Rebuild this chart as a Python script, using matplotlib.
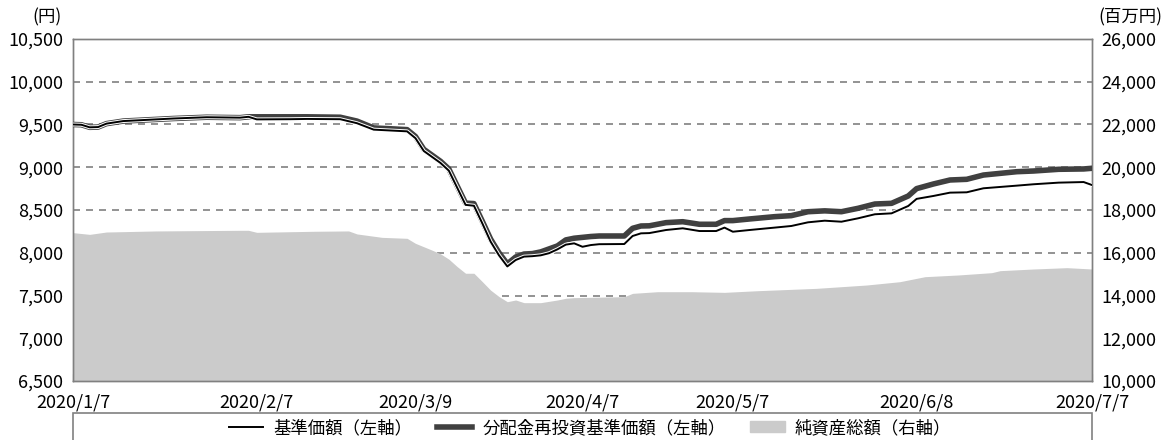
# 基準価額・分配金再投資基準価額・純資産総額の推移（2020/1/7〜2020/7/7）

import pandas as pd
import matplotlib
matplotlib.use("Agg")
from matplotlib import pyplot as plt
from matplotlib import patheffects as pe
from matplotlib.lines import Line2D
from matplotlib.patches import Patch, Rectangle
from matplotlib.ticker import FuncFormatter

plt.rcParams['font.family'] = ['Noto Sans CJK JP', 'DejaVu Sans']

# 東京市場の休場日（期間内）
holidays = ['2020-01-13', '2020-02-11', '2020-02-24', '2020-03-20',
            '2020-04-29', '2020-05-04', '2020-05-05', '2020-05-06']
days = pd.bdate_range('2020-01-07', '2020-07-07', freq='C', holidays=holidays)

# 基準価額 / 分配金再投資基準価額（円）
price_dates = ['01-07', '01-08', '01-09', '01-10', '01-14', '01-16', '01-20', '01-24',
               '01-30', '02-05', '02-06', '02-07', '02-14', '02-18', '02-25', '02-27',
               '03-02', '03-06', '03-09', '03-10', '03-12', '03-13', '03-16', '03-17',
               '03-18', '03-19', '03-23', '03-24', '03-25', '03-26', '03-27', '03-30',
               '03-31', '04-01', '04-02', '04-03', '04-06', '04-07', '04-08', '04-09',
               '04-14', '04-15', '04-16', '04-17', '04-21', '04-23', '04-27', '04-30',
               '05-01', '05-07', '05-11', '05-14', '05-18', '05-20', '05-22', '05-26',
               '05-28', '06-01', '06-03', '06-05', '06-08', '06-10', '06-12', '06-16',
               '06-18', '06-24', '06-26', '07-01', '07-06', '07-07']
nav = [9500, 9497, 9467, 9470, 9510, 9540, 9550, 9570,
       9585, 9580, 9590, 9560, 9562, 9565, 9562, 9515,
       9440, 9420, 9340, 9190, 9050, 8960, 8760, 8560,
       8550, 8345, 8130, 7970, 7840, 7915, 7955, 7960,
       7970, 7995, 8040, 8095, 8110, 8070, 8090, 8100,
       8102, 8196, 8227, 8230, 8266, 8286, 8254, 8254,
       8294, 8246, 8266, 8294, 8313, 8356, 8375, 8363,
       8403, 8450, 8461, 8547, 8630, 8664, 8703, 8707,
       8754, 8785, 8801, 8820, 8827, 8792]
nav_reinv = [9500, 9497, 9467, 9470, 9510, 9540, 9550, 9570,
             9585, 9580, 9590, 9590, 9590, 9590, 9585, 9540,
             9460, 9440, 9360, 9210, 9070, 8980, 8780, 8580,
             8575, 8370, 8160, 8000, 7870, 7950, 7985, 7990,
             8010, 8045, 8080, 8150, 8170, 8180, 8190, 8196,
             8196, 8286, 8313, 8315, 8352, 8363, 8333, 8333,
             8376, 8376, 8395, 8422, 8434, 8480, 8490, 8480,
             8520, 8570, 8578, 8664, 8750, 8804, 8851, 8859,
             8909, 8948, 8956, 8976, 8980, 8988]

# 純資産総額（百万円）
asset_dates = ['01-07', '01-09', '01-14', '01-22', '02-05', '02-06', '02-07', '02-19',
               '02-26', '02-27', '03-03', '03-06', '03-09', '03-11', '03-12', '03-13',
               '03-16', '03-17', '03-18', '03-19', '03-23', '03-24', '03-25', '03-26',
               '03-27', '03-31', '04-02', '04-03', '04-06', '04-08', '04-14', '04-15',
               '04-20', '04-24', '05-01', '05-12', '05-21', '05-29', '06-04', '06-09',
               '06-15', '06-19', '06-22', '06-26', '07-02', '07-07']
assets = [16940, 16860, 16970, 17020, 17050, 17050, 16955, 17005,
          17020, 16880, 16720, 16675, 16440, 16120, 15950, 15700,
          15350, 15040, 15040, 14650, 14250, 13950, 13710, 13790,
          13665, 13665, 13790, 13870, 13900, 13914, 13945, 14100,
          14178, 14178, 14147, 14225, 14334, 14490, 14646, 14880,
          14960, 15068, 15162, 15240, 15302, 15240]

tick_dates = ['01-07', '02-07', '03-09', '04-07', '05-07', '06-08', '07-07']
tick_labels = ['2020/1/7', '2020/2/7', '2020/3/9', '2020/4/7', '2020/5/7', '2020/6/8', '2020/7/7']


def pos(ds):
    return [days.get_loc(pd.Timestamp('2020-' + d)) for d in ds]


edge = '#808080'
fig = plt.figure(figsize=(11.65, 4.4), dpi=100)
ax = fig.add_axes([73 / 1165, 1 - 381 / 440, (1092 - 73) / 1165, (381 - 39) / 440])
ax2 = ax.twinx()

# 純資産総額（右軸）
ax.fill_between(pos(asset_dates), assets, 10000, color='#cbcbcb', lw=0, zorder=2)
ax.set_ylim(10000, 26000)
ax.set_yticks(range(10000, 26001, 2000))
ax.yaxis.tick_right()
ax.yaxis.set_major_formatter(FuncFormatter(lambda v, p: f'{v:,.0f}'))
ax.grid(axis='y', color=edge, lw=1.2, linestyle=(0, (4.2, 3.6)), zorder=1)
ax.set_axisbelow(True)

# 基準価額（左軸）
xp = pos(price_dates)
ax2.plot(xp, nav_reinv, color='#404040', lw=4, solid_joinstyle='round', zorder=3)
ax2.plot(xp, nav, color='black', lw=1.4, zorder=4,
         path_effects=[pe.Stroke(linewidth=2.8, foreground='white'), pe.Normal()])
ax2.set_ylim(6500, 10500)
ax2.set_yticks(range(6500, 10501, 500))
ax2.yaxis.tick_left()
ax2.yaxis.set_major_formatter(FuncFormatter(lambda v, p: f'{v:,.0f}'))

ax.set_xlim(0, len(days) - 1)
ax.set_xticks(pos(tick_dates))
ax.set_xticklabels(tick_labels)
ax.tick_params(axis='x', direction='in', length=5, color=edge, labelsize=13, pad=9)
ax.tick_params(axis='y', length=0, labelsize=13, pad=7)
ax2.tick_params(axis='y', length=0, labelsize=13, pad=7)
for a in (ax, ax2):
    for s in a.spines.values():
        s.set_color(edge)
        s.set_linewidth(1)

fig.text(47 / 1165, 1 - 17 / 440, '(円)', ha='center', va='center', fontsize=12.5)
fig.text(1130 / 1165, 1 - 17 / 440, '(百万円)', ha='center', va='center', fontsize=12.5)

# 凡例
fig.patches.append(Rectangle((73 / 1165, -0.02), (1092 - 73) / 1165, 0.02 + 1 - 413 / 440,
                             transform=fig.transFigure, fill=False, ec=edge, lw=1.2))
handles = [Line2D([], [], color='black', lw=1.4),
           Line2D([], [], color='#404040', lw=4),
           Patch(color='#cbcbcb')]
fig.legend(handles, ['基準価額（左軸）', '分配金再投資基準価額（左軸）', '純資産総額（右軸）'],
           loc='center', bbox_to_anchor=(590 / 1165, 1 - 428 / 440), ncol=3, frameon=False,
           fontsize=12.5, handlelength=2.0, handleheight=0.6, columnspacing=1.4, handletextpad=0.6)

fig.savefig('out.png', dpi=100)
